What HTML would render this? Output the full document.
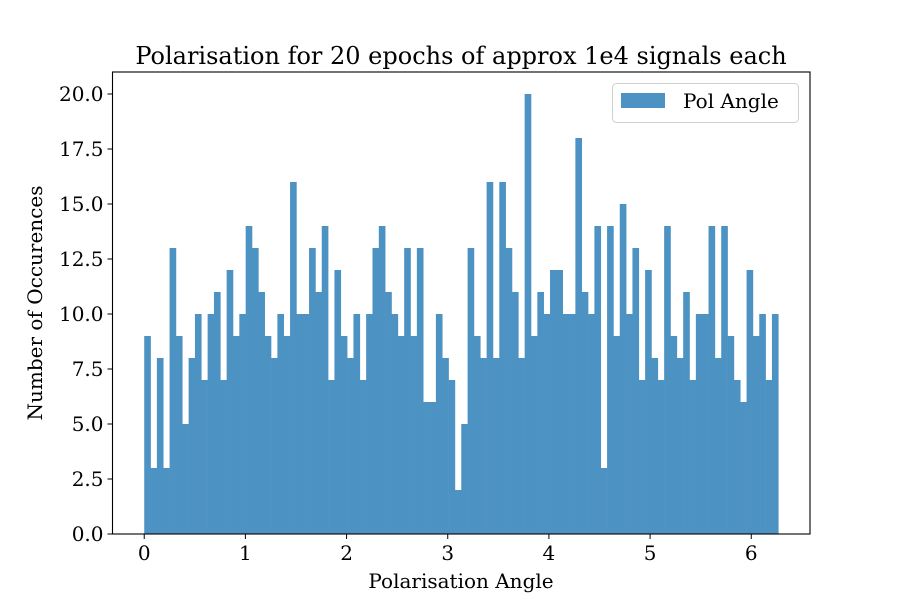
<!DOCTYPE html>
<html><head><meta charset="utf-8"><style>
html,body{margin:0;padding:0;background:#fff;width:900px;height:600px;overflow:hidden}
svg text{font-family:"DejaVu Serif","Liberation Serif",serif;fill:#000}
</style></head><body>
<svg id="chart" width="900" height="600" viewBox="0 0 900 600" xmlns="http://www.w3.org/2000/svg">
<rect width="900" height="600" fill="#fff"/>
<text x="461" y="64" font-size="24" text-anchor="middle">Polarisation for 20 epochs of approx 1e4 signals each</text>
<g id="bars"></g>
<g id="axes"></g>
<text x="461" y="588" font-size="20" text-anchor="middle">Polarisation Angle</text>
<text transform="translate(42,303) rotate(-90)" font-size="20" text-anchor="middle">Number of Occurences</text>
<g>
<rect x="612.5" y="83.5" width="186" height="39" rx="4" fill="#fff" stroke="#d0d0d0" fill-opacity="0.8"/>
<rect x="621" y="93" width="44" height="15" fill="#4c93c3"/>
<text x="683" y="108" font-size="20">Pol Angle</text>
</g>
</svg>
<script>
const counts = [9,3,8,3,13,9,5,8,10,7, 10,11,7,12,9,10,14,13,11,9, 8,10,9,16,10,10,13,11,14,7, 12,9,8,10,7,10,13,14,11,10, 9,13,9,13,6,6,10,8,7,2, 5,13,9,8,16,8,16,13,11,8, 20,9,11,10,12,12,10,10,18,11, 10,14,3,14,9,15,10,13,7,12, 8,7,14,9,8,11,7,10,10,14, 8,14,9,7,6,12,9,10,7,10];
const binMin = 0;
const binMax = 6.267;
const xTicks = [0,1,2,3,4,5,6];
const yTicks = [0,2.5,5,7.5,10,12.5,15,17.5,20];
const yTickLabels = ["0.0","2.5","5.0","7.5","10.0","12.5","15.0","17.5","20.0"];

const L=112.5,R=810,T=72,B=534;
const xMin=-0.3135, xMax=binMax+0.3135, yMax=21;
const X=v=>L+(v-xMin)/(xMax-xMin)*(R-L);
const Y=v=>B-v/yMax*(B-T);
const NS="http://www.w3.org/2000/svg";
const bars=document.getElementById('bars');
const w=(binMax-binMin)/counts.length;
counts.forEach((c,i)=>{
  const r=document.createElementNS(NS,'rect');
  const x0=X(binMin+i*w), x1=X(binMin+(i+1)*w);
  r.setAttribute('x',x0);r.setAttribute('width',x1-x0+0.3);
  r.setAttribute('y',Y(c));r.setAttribute('height',B-Y(c));
  r.setAttribute('fill','#4c93c3');
  
  
  bars.appendChild(r);
});
const ax=document.getElementById('axes');
function el(tag,attrs){const e=document.createElementNS(NS,tag);for(const k in attrs)e.setAttribute(k,attrs[k]);ax.appendChild(e);return e;}
const fr=el('rect',{x:L,y:T,width:R-L,height:B-T,fill:'none',stroke:'#000','stroke-width':1.1});


xTicks.forEach(t=>{
  const ln=el('line',{x1:X(t),x2:X(t),y1:B,y2:B+5,stroke:'#000','stroke-width':1});
  
  
  const tx=el('text',{x:X(t),y:B+26,'font-size':20,'text-anchor':'middle'});
  tx.textContent=String(t);
  
  
});
yTicks.forEach((t,i)=>{
  const ln=el('line',{x1:L-5,x2:L,y1:Y(t),y2:Y(t),stroke:'#000','stroke-width':1});
  
  
  const tx=el('text',{x:L-9,y:Y(t)+7,'font-size':20,'text-anchor':'end'});
  tx.textContent=yTickLabels[i];
  
  
});
</script>
</body></html>
